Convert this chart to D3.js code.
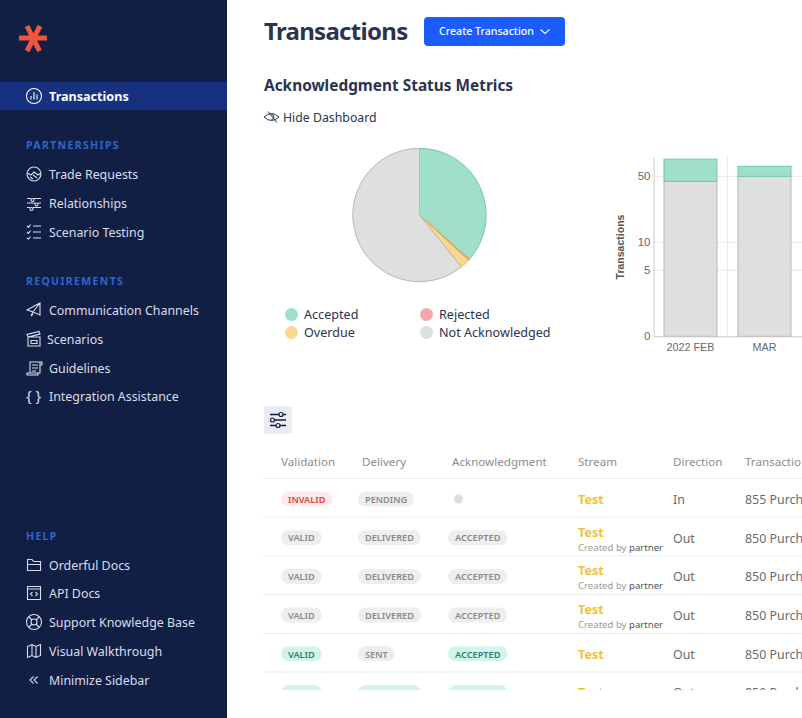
<!DOCTYPE html>
<html>
<head>
<meta charset="utf-8">
<script src="https://cdn.jsdelivr.net/npm/d3@7"></script>
<style>
  html, body { margin: 0; padding: 0; background: #fff; overflow: hidden; }
  svg { display: block; }
  text { font-family: "Noto Sans", sans-serif; }
</style>
</head>
<body>
<div id="chart"></div>
<script>
// pie values (share of transactions)
var statusNames = ["Accepted", "Rejected", "Overdue", "Not Acknowledged"];
var statusValues = [36.6, 0.3, 2.3, 60.8];
var legendOrder = ["Accepted", "Rejected", "Overdue", "Not Acknowledged"];

// monthly bars
var months = ["2022 FEB", "MAR"];
var monthNotAcknowledged = [47, 50];
var monthAccepted = [27, 14];
var yTicks = [0, 5, 10, 50];
var yAnchors = [0, 5, 10, 50, 77];

// sidebar
var navPartnerships = ["Trade Requests", "Relationships", "Scenario Testing"];
var navRequirements = ["Communication Channels", "Scenarios", "Guidelines", "Integration Assistance"];
var navHelp = ["Orderful Docs", "API Docs", "Support Knowledge Base", "Visual Walkthrough", "Minimize Sidebar"];

// table, the last column runs off the page so only what shows is kept
var columns = ["Validation", "Delivery", "Acknowledgment", "Stream", "Direction", "Transactio"];
var rowValidation = ["INVALID", "VALID", "VALID", "VALID", "VALID", "VALID"];
var rowValidationState = ["bad", "off", "off", "off", "good", "good"];
var rowDelivery = ["PENDING", "DELIVERED", "DELIVERED", "DELIVERED", "SENT", "DELIVERED"];
var rowDeliveryState = ["off", "off", "off", "off", "off", "good"];
var rowAck = ["", "ACCEPTED", "ACCEPTED", "ACCEPTED", "ACCEPTED", "ACCEPTED"];
var rowAckState = ["off", "off", "off", "off", "good", "good"];
var rowStream = ["Test", "Test", "Test", "Test", "Test", "Test"];
var rowCreatedBy = ["", "partner", "partner", "partner", "", ""];
var rowDirection = ["In", "Out", "Out", "Out", "Out", "Out"];
var rowType = ["855 Purch", "850 Purch", "850 Purch", "850 Purch", "850 Purch", "850 Purch"];

var navy = "#121f45", ink = "#2b3350", grey = "#8c8c8c";
var statusFill = { "Accepted": "#a0dfca", "Rejected": "#f2a8ad", "Overdue": "#f8d88c", "Not Acknowledged": "#dfdfdf" };
var statusLine = { "Accepted": "#6fcaaa", "Rejected": "#e0954f", "Overdue": "#e8b85c", "Not Acknowledged": "#b8b8b8" };

var svg = d3.select("#chart").append("svg").attr("width", 802).attr("height", 718);

function label(parent, x, y, str, size, weight, fill) {
  return parent.append("text").attr("x", x).attr("y", y).attr("dy", "0.35em")
    .attr("font-size", size).attr("font-weight", weight).attr("fill", fill).text(str);
}

// ---------- sidebar ----------
var side = svg.append("g");
side.append("rect").attr("width", 227).attr("height", 718).attr("fill", navy);
side.append("rect").attr("y", 82).attr("width", 227).attr("height", 28).attr("fill", "#15317f");

// logo
side.append("path").attr("d", "M19 38H47M27 26L39.500 51M40 26L27 51")
  .attr("stroke", "#f2553d").attr("stroke-width", 5).attr("fill", "none");

// icons, each drawn around (0,0)
var icons = {
  "Transactions": "M-7.500 0A7.500 7.500 0 1 1 7.500 0A7.500 7.500 0 1 1 -7.500 0M-3 3.500V0M0 3.500V-4M3 3.500V-1.500",
  "Trade Requests": "M-7 0A7 7 0 1 1 7 0A7 7 0 1 1 -7 0M-7 -1L-3 1L0 -2L4 1L7 -1M-4 3L-1 5M-1 1L3 4",
  "Relationships": "M-7 -4.500H-3M0 -4.500H7M-7 0H1M4 0H7M-7 4.500H-4M-1 4.500H7M-1.500 -4.500a1.500 1.500 0 1 1 -.01 0M2.500 0a1.500 1.500 0 1 1 -.01 0M-2.500 4.500a1.500 1.500 0 1 1 -.01 0",
  "Scenario Testing": "M-7 -6L-5.500 -4.500L-3.500 -7.500M-7 0L-5.500 1.500L-3.500 -1.500M-7 6L-5.500 7L-3.500 4.500M-1 -6H7M-1 0H7M-1 6H7",
  "Communication Channels": "M-7 0L6 -7L6 5L-1 2ZM-1 2L-3 6L-1 4M-1 2L6 -7",
  "Scenarios": "M-6 -2H6V7H-6ZM-6 -2L-7 -4.500L5 -7.500L6 -5ZM-3 1.500H3V4.500H-3Z",
  "Guidelines": "M-4 -6H6V5H-4ZM-4 5H-7V7H4V5M6 -6H8V-3H6M-2 -3H4M-2 0H4M-2 3H2",
  "Orderful Docs": "M-6.500 -5.500H-2L-.5 -3.500H6.500V5.500H-6.500ZM-6.500 -.5H6.500",
  "API Docs": "M-6.500 -6.500H6.500V6.500H-6.500ZM-6.500 -4H6.500M-1.500 -1L-3.500 1L-1.500 3M1.500 -1L3.500 1L1.500 3",
  "Support Knowledge Base": "M-7.500 0A7.500 7.500 0 1 1 7.500 0A7.500 7.500 0 1 1 -7.500 0M-3 0A3 3 0 1 1 3 0A3 3 0 1 1 -3 0M-5 -5L-2 -2M5 -5L2 -2M-5 5L-2 2M5 5L2 2",
  "Visual Walkthrough": "M-6.500 -4.500L-2 -6.500L2 -4.500L6.500 -6.500V4.500L2 6.500L-2 4.500L-6.500 6.500ZM-2 -6.500V4.500M2 -4.500V6.500",
  "Minimize Sidebar": "M-.5 -3.500L-4 0L-.5 3.500M3.500 -3.500L0 0L3.500 3.500"
};
function navIcon(name, y, color) {
  if (!icons[name]) return;
  side.append("path").attr("transform", "translate(34," + y + ")").attr("d", icons[name])
    .attr("fill", "none").attr("stroke", color).attr("stroke-width", 1.1);
}
function navGroup(title, titleY, names, ys) {
  label(side, 26, titleY, title, 10.5, 700, "#2f66d0").attr("letter-spacing", 1.35);
  names.forEach(function(name, i) {
    label(side, name == "Scenarios" ? 47 : 49, ys[i] + 1, name, 12.4, 400, "#d9ddea");
    navIcon(name, ys[i], "#d9ddea");
  });
}
label(side, 49, 97, "Transactions", 12.6, 700, "#ffffff");
navIcon("Transactions", 96, "#ffffff");
navGroup("PARTNERSHIPS", 145, navPartnerships, [174, 203, 232]);
navGroup("REQUIREMENTS", 281, navRequirements, [310, 339, 368, 396]);
navGroup("HELP", 536, navHelp, [565, 593, 622, 651, 680]);
label(side, 26, 396, "{ }", 15, 400, "#d9ddea");

// ---------- page header ----------
label(svg, 264, 32, "Transactions", 24, 700, ink).attr("letter-spacing", -0.7);
svg.append("rect").attr("x", 424).attr("y", 17).attr("width", 141).attr("height", 29).attr("rx", 4).attr("fill", "#1a5cff");
label(svg, 439, 31, "Create Transaction", 10.6, 500, "#ffffff");
svg.append("path").attr("d", "M540.500 29.500L545 33.500L549.500 29.500").attr("fill", "none").attr("stroke", "#fff").attr("stroke-width", 1.1);
label(svg, 264, 86, "Acknowledgment Status Metrics", 15.4, 700, ink);
label(svg, 283, 118, "Hide Dashboard", 12.3, 400, ink);
svg.append("path").attr("d", "M264 117Q271.500 110 279 117Q271.500 124 264 117ZM268 111.500L277 122.500M271.500 114.500A2.500 2.500 0 1 1 271.400 119.500")
  .attr("fill", "none").attr("stroke", ink).attr("stroke-width", 1);

// ---------- pie ----------
var pieData = d3.pie().sort(null)(statusValues);
var arc = d3.arc().innerRadius(0).outerRadius(66.7);
svg.append("g").attr("transform", "translate(419.500,215)")
  .selectAll("path").data(pieData).enter().append("path")
    .attr("d", arc)
    .attr("fill", function(d, i) { return statusFill[statusNames[i]]; })
    .attr("stroke", function(d, i) { return statusLine[statusNames[i]]; })
    .attr("stroke-width", 1);

// legend, two by two
var legendX = d3.scalePoint().domain([0, 1]).range([291.500, 426.500]);
var legendY = d3.scalePoint().domain([0, 1]).range([314.500, 332.500]);
var legend = svg.append("g").selectAll("g").data(legendOrder).enter().append("g")
  .attr("transform", function(d, i) { return "translate(" + legendX(i % 2) + "," + legendY(Math.floor(i / 2)) + ")"; });
legend.append("circle").attr("r", 6.5).attr("fill", function(d) { return statusFill[d]; });
legend.append("text").attr("x", 12.5).attr("dy", "0.35em").attr("font-size", 12.6).attr("fill", ink).text(function(d) { return d; });

// ---------- stacked bars ----------
var x = d3.scaleBand().domain(months).range([653.500, 801.500]);
var y = d3.scaleLinear().domain(yAnchors).range([336.300, 270.300, 242.300, 176.300, 157]);
var barWidth = 53;
var bars = svg.append("g");

bars.selectAll(".grid").data(yTicks.slice(1)).enter().append("line")
  .attr("x1", 653.500).attr("x2", 802)
  .attr("y1", function(d) { return y(d); }).attr("y2", function(d) { return y(d); })
  .attr("stroke", "#e8e8e8");
bars.append("line").attr("x1", x("MAR")).attr("x2", x("MAR")).attr("y1", 157).attr("y2", 336.300).attr("stroke", "#e8e8e8");

var barLeft = function(m) { return x(m) + (x.bandwidth() - barWidth) / 2; };
bars.selectAll(".notack").data(months).enter().append("rect")
  .attr("x", barLeft).attr("width", barWidth)
  .attr("y", function(d, i) { return y(monthNotAcknowledged[i]); })
  .attr("height", function(d, i) { return y(0) - y(monthNotAcknowledged[i]); })
  .attr("fill", statusFill["Not Acknowledged"]).attr("stroke", statusLine["Not Acknowledged"]);
bars.selectAll(".accepted").data(months).enter().append("rect")
  .attr("x", barLeft).attr("width", barWidth)
  .attr("y", function(d, i) { return y(monthNotAcknowledged[i] + monthAccepted[i]); })
  .attr("height", function(d, i) { return y(monthNotAcknowledged[i]) - y(monthNotAcknowledged[i] + monthAccepted[i]); })
  .attr("fill", statusFill["Accepted"]).attr("stroke", statusLine["Accepted"]);

var yAxis = bars.append("g").attr("transform", "translate(653.500,0)")
  .call(d3.axisLeft(y).tickValues(yTicks).tickSize(0).tickPadding(3).tickFormat(d3.format("d")));
var xAxis = bars.append("g").attr("transform", "translate(0,336.300)")
  .call(d3.axisBottom(x).tickSize(0).tickPadding(7));
[yAxis, xAxis].forEach(function(a) {
  a.select(".domain").attr("stroke", "#c8c8c8");
  a.selectAll("text").style("font-family", "'Liberation Sans', sans-serif").attr("font-size", 10.8).attr("fill", "#666");
});
yAxis.selectAll("text").attr("font-size", 11.5);
bars.append("text").attr("transform", "translate(620,247) rotate(-90)").attr("text-anchor", "middle").attr("dy", "0.35em")
  .style("font-family", "'Liberation Sans', sans-serif").attr("font-size", 10.5).attr("font-weight", 700).attr("fill", "#555").text("Transactions");

// ---------- filter button ----------
svg.append("rect").attr("x", 264).attr("y", 406).attr("width", 28).attr("height", 28).attr("rx", 3).attr("fill", "#e9ecf2");
svg.append("path").attr("d", "M270 414.500H286M270 420H286M270 425.500H286").attr("stroke", navy).attr("stroke-width", 1.3);
svg.selectAll(".knob").data([[281, 414.500], [272.500, 420], [278, 425.500]]).enter().append("circle")
  .attr("cx", function(d) { return d[0]; }).attr("cy", function(d) { return d[1]; }).attr("r", 2)
  .attr("fill", "#e9ecf2").attr("stroke", navy).attr("stroke-width", 1.2);

// ---------- table ----------
var colX = d3.scaleOrdinal().domain(columns).range([281, 362, 452, 578, 673, 745]);
svg.selectAll(".head").data(columns).enter().append("text")
  .attr("x", function(d) { return colX(d); }).attr("y", 462).attr("dy", "0.35em")
  .attr("font-size", 11.6).attr("fill", grey).text(function(d) { return d; });

svg.append("clipPath").attr("id", "rows").append("rect").attr("x", 228).attr("y", 470).attr("width", 574).attr("height", 220);
var table = svg.append("g").attr("clip-path", "url(#rows)");

var rowY = d3.scaleLinear().domain([0, 5]).range([499, 692.500]);
rowStream.forEach(function(d, i) {
  table.append("line").attr("x1", 263).attr("x2", 802).attr("y1", rowY(i) - 20.5).attr("y2", rowY(i) - 20.5).attr("stroke", "#ececec");
});

var badgeFill = { off: "#eeeeee", good: "#d1f5ea", bad: "#fdeaea" };
var badgeText = { off: "#8a8a8a", good: "#2e7d66", bad: "#e8402f" };
function badge(left, cy, str, state) {
  var g = table.append("g");
  var t = label(g, left + 7, cy + 0.5, str, 9.2, 600, badgeText[state]);
  var w = t.node().getComputedTextLength() + 14;
  g.insert("rect", "text").attr("x", left).attr("y", cy - 7.5).attr("width", w).attr("height", 15).attr("rx", 7.5).attr("fill", badgeFill[state]);
}
rowStream.forEach(function(stream, i) {
  var cy = rowY(i);
  badge(281, cy, rowValidation[i], rowValidationState[i]);
  badge(358, cy, rowDelivery[i], rowDeliveryState[i]);
  if (rowAck[i]) badge(448, cy, rowAck[i], rowAckState[i]);
  else table.append("circle").attr("cx", 458.500).attr("cy", cy).attr("r", 4.5).attr("fill", "#dddddd");

  if (rowCreatedBy[i]) {
    label(table, 578, cy - 5.5, stream, 12.6, 700, "#f2c23a");
    var note = label(table, 578, cy + 9.5, "Created by ", 9.6, 400, "#9a9a9a");
    note.append("tspan").attr("fill", "#555").text(rowCreatedBy[i]);
  } else {
    label(table, 578, cy + 0.5, stream, 12.6, 700, "#f2c23a");
  }
  label(table, 673, cy + 0.5, rowDirection[i], 12.4, 400, "#6b6b6b");
  label(table, 745, cy + 0.5, rowType[i], 12.4, 400, "#6b6b6b");
});
</script>
</body>
</html>
